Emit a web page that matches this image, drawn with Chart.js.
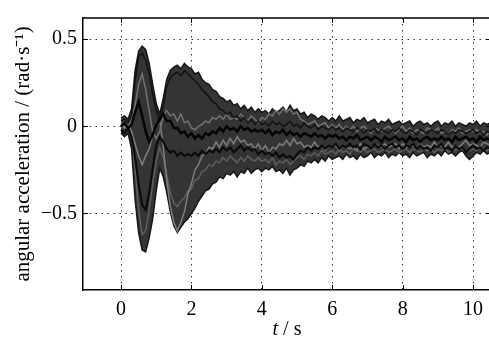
<!DOCTYPE html>
<html>
<head>
<meta charset="utf-8">
<script src="https://cdn.jsdelivr.net/npm/chart.js@4/dist/chart.umd.min.js"></script>
<style>
    html, body { margin: 0; padding: 0; background: #fff; overflow: hidden; }
    #accel_chart { display: block; }
</style>
</head>
<body>
<canvas id="accel_chart" width="492" height="340"></canvas>
<script>
// time axis, seconds
const time_s = [
    0.0, 0.1, 0.2, 0.3, 0.4, 0.5, 0.6, 0.7, 0.8, 0.9,
    1.0, 1.1, 1.2, 1.3, 1.4, 1.5, 1.6, 1.7, 1.8, 1.9,
    2.0, 2.1, 2.2, 2.3, 2.4, 2.5, 2.6, 2.7, 2.8, 2.9,
    3.0, 3.1, 3.2, 3.3, 3.4, 3.5, 3.6, 3.7, 3.8, 3.9,
    4.0, 4.1, 4.2, 4.3, 4.4, 4.5, 4.6, 4.7, 4.8, 4.9,
    5.0, 5.1, 5.2, 5.3, 5.4, 5.5, 5.6, 5.7, 5.8, 5.9,
    6.0, 6.1, 6.2, 6.3, 6.4, 6.5, 6.6, 6.7, 6.8, 6.9,
    7.0, 7.1, 7.2, 7.3, 7.4, 7.5, 7.6, 7.7, 7.8, 7.9,
    8.0, 8.1, 8.2, 8.3, 8.4, 8.5, 8.6, 8.7, 8.8, 8.9,
    9.0, 9.1, 9.2, 9.3, 9.4, 9.5, 9.6, 9.7, 9.8, 9.9,
    10.0, 10.1, 10.2, 10.3, 10.4, 10.5
];

// upper / lower edge of the bundle of all runs (rad/s^2)
const upper_env = [
    0.05, 0.06, 0.04, 0.10, 0.32, 0.43, 0.46, 0.44, 0.36, 0.24,
    0.13, 0.07, 0.16, 0.27, 0.32, 0.34, 0.35, 0.33, 0.36, 0.34,
    0.33, 0.30, 0.31, 0.27, 0.25, 0.24, 0.21, 0.20, 0.17, 0.16,
    0.14, 0.15, 0.12, 0.13, 0.10, 0.12, 0.09, 0.11, 0.08, 0.10,
    0.08, 0.09, 0.07, 0.10, 0.08, 0.09, 0.11, 0.08, 0.12, 0.09,
    0.10, 0.07, 0.08, 0.05, 0.07, 0.06, 0.04, 0.06, 0.05, 0.03,
    0.05, 0.03, 0.06, 0.03, 0.04, 0.05, 0.02, 0.04, 0.03, 0.05,
    0.02, 0.03, 0.04, 0.01, 0.03, 0.02, 0.04, 0.01, 0.02, 0.03,
    0.01, 0.02, 0.03, 0.00, 0.02, 0.03, 0.01, 0.02, 0.00, 0.02,
    0.03, 0.00, 0.02, 0.01, 0.03, 0.00, 0.02, 0.01, 0.00, 0.02,
    0.01, 0.03, 0.00, 0.02, 0.01, 0.02
];

const lower_env = [
    -0.04, -0.06, -0.04, -0.13, -0.42, -0.61, -0.71, -0.72, -0.64, -0.53,
    -0.37, -0.24, -0.29, -0.38, -0.49, -0.57, -0.61, -0.58, -0.55, -0.53,
    -0.50, -0.47, -0.43, -0.40, -0.37, -0.36, -0.33, -0.32, -0.29, -0.30,
    -0.27, -0.28, -0.26, -0.29, -0.26, -0.27, -0.24, -0.27, -0.25, -0.24,
    -0.26, -0.24, -0.25, -0.23, -0.26, -0.25, -0.27, -0.24, -0.28, -0.25,
    -0.24, -0.22, -0.23, -0.20, -0.21, -0.19, -0.21, -0.18, -0.20, -0.17,
    -0.19, -0.18, -0.17, -0.19, -0.16, -0.18, -0.17, -0.19, -0.16, -0.18,
    -0.17, -0.15, -0.18, -0.16, -0.17, -0.15, -0.18, -0.16, -0.17, -0.15,
    -0.17, -0.16, -0.18, -0.15, -0.17, -0.16, -0.15, -0.18, -0.16, -0.17,
    -0.15, -0.17, -0.14, -0.16, -0.15, -0.17, -0.15, -0.14, -0.17, -0.19,
    -0.17, -0.15, -0.16, -0.14, -0.16, -0.15
];

// darkest runs inside the bundle
const mean_run = [
    0.00, 0.02, -0.01, 0.01, 0.08, 0.14, 0.06, -0.03, -0.09, -0.05,
    0.01, 0.04, 0.07, 0.03, 0.03, -0.01, -0.01, -0.04, -0.03, -0.06,
    -0.04, -0.07, -0.05, -0.07, -0.04, -0.05, -0.03, -0.04, -0.01, -0.03,
    0.00, -0.02, -0.01, -0.03, 0.00, -0.02, -0.01, -0.03, -0.02, -0.03,
    -0.02, -0.04, -0.02, -0.05, -0.03, -0.04, -0.02, -0.05, -0.03, -0.05,
    -0.04, -0.06, -0.04, -0.05, -0.06, -0.04, -0.06, -0.05, -0.07, -0.05,
    -0.06, -0.05, -0.07, -0.06, -0.08, -0.06, -0.07, -0.05, -0.08, -0.07,
    -0.06, -0.08, -0.06, -0.07, -0.09, -0.06, -0.08, -0.07, -0.06, -0.08,
    -0.07, -0.09, -0.06, -0.08, -0.07, -0.09, -0.07, -0.06, -0.08, -0.07,
    -0.08, -0.06, -0.08, -0.07, -0.09, -0.06, -0.08, -0.07, -0.06, -0.08,
    -0.07, -0.09, -0.06, -0.08, -0.07, -0.08
];

const low_run = [
    -0.02, -0.04, -0.01, -0.06, -0.18, -0.33, -0.45, -0.48, -0.38, -0.24,
    -0.11, -0.06, -0.09, -0.13, -0.15, -0.14, -0.17, -0.15, -0.17, -0.16,
    -0.17, -0.15, -0.17, -0.14, -0.16, -0.14, -0.15, -0.13, -0.15, -0.12,
    -0.14, -0.12, -0.15, -0.13, -0.11, -0.14, -0.12, -0.14, -0.13, -0.16,
    -0.14, -0.16, -0.15, -0.17, -0.15, -0.18, -0.16, -0.18, -0.17, -0.19,
    -0.16, -0.14, -0.15, -0.12, -0.14, -0.12, -0.13, -0.11, -0.13, -0.11,
    -0.12, -0.10, -0.13, -0.11, -0.12, -0.10, -0.12, -0.11, -0.13, -0.10,
    -0.11, -0.13, -0.10, -0.12, -0.11, -0.13, -0.11, -0.10, -0.12, -0.11,
    -0.13, -0.11, -0.12, -0.10, -0.13, -0.11, -0.13, -0.12, -0.14, -0.11,
    -0.12, -0.10, -0.13, -0.12, -0.14, -0.11, -0.13, -0.12, -0.15, -0.13,
    -0.11, -0.13, -0.12, -0.14, -0.12, -0.13
];

const dark_top_run = [
    0.03, 0.04, 0.02, 0.06, 0.26, 0.40, 0.42, 0.38, 0.30, 0.18,
    0.09, 0.03, 0.12, 0.23, 0.28, 0.30, 0.31, 0.29, 0.32, 0.30,
    0.28, 0.26, 0.24, 0.21, 0.19, 0.17, 0.14, 0.13, 0.10, 0.09,
    0.07, 0.08, 0.05, 0.06, 0.03, 0.05, 0.02, 0.04, 0.01, 0.03,
    0.01, 0.02, 0.00, 0.03, 0.01, 0.02, 0.00, 0.01, 0.03, 0.00,
    0.01, -0.01, 0.02, 0.00, -0.01, 0.01, -0.02, 0.00, -0.01, -0.02,
    0.00, -0.02, -0.01, -0.03, -0.01, -0.02, -0.03, -0.01, -0.02, -0.04,
    -0.02, -0.03, -0.01, -0.04, -0.02, -0.03, -0.04, -0.02, -0.03, -0.01,
    -0.03, -0.04, -0.02, -0.03, -0.05, -0.02, -0.03, -0.04, -0.02, -0.03,
    -0.04, -0.02, -0.03, -0.05, -0.03, -0.04, -0.02, -0.03, -0.04, -0.03,
    -0.02, -0.04, -0.03, -0.05, -0.03, -0.04
];

// mid and light grey runs
const mid_run = [
    -0.01, 0.00, -0.02, -0.04, -0.25, -0.48, -0.62, -0.60, -0.48, -0.33,
    -0.20, -0.12, -0.18, -0.28, -0.38, -0.44, -0.46, -0.43, -0.41, -0.37,
    -0.36, -0.31, -0.30, -0.26, -0.25, -0.22, -0.23, -0.20, -0.21, -0.18,
    -0.20, -0.17, -0.19, -0.21, -0.18, -0.20, -0.17, -0.19, -0.20, -0.18,
    -0.20, -0.19, -0.21, -0.18, -0.22, -0.20, -0.21, -0.19, -0.22, -0.20,
    -0.18, -0.17, -0.19, -0.16, -0.17, -0.15, -0.17, -0.14, -0.16, -0.15,
    -0.14, -0.16, -0.13, -0.15, -0.14, -0.16, -0.13, -0.14, -0.15, -0.13,
    -0.15, -0.14, -0.13, -0.15, -0.14, -0.13, -0.15, -0.14, -0.13, -0.15,
    -0.14, -0.13, -0.15, -0.13, -0.14, -0.15, -0.13, -0.14, -0.13, -0.15,
    -0.13, -0.14, -0.12, -0.15, -0.13, -0.14, -0.12, -0.13, -0.15, -0.14,
    -0.13, -0.14, -0.12, -0.13, -0.14, -0.12
];

const grey_low_run = [
    0.02, -0.01, 0.01, -0.03, -0.10, -0.17, -0.22, -0.17, -0.13, -0.05,
    0.02, 0.04, -0.12, -0.31, -0.46, -0.55, -0.60, -0.55, -0.49, -0.39,
    -0.33, -0.25, -0.22, -0.17, -0.16, -0.12, -0.13, -0.09, -0.12, -0.08,
    -0.11, -0.07, -0.10, -0.06, -0.09, -0.08, -0.11, -0.10, -0.13, -0.10,
    -0.14, -0.11, -0.15, -0.12, -0.13, -0.10, -0.11, -0.08, -0.11, -0.07,
    -0.10, -0.09, -0.12, -0.11, -0.12, -0.09, -0.12, -0.11, -0.14, -0.11,
    -0.12, -0.11, -0.14, -0.11, -0.12, -0.13, -0.12, -0.14, -0.10, -0.13,
    -0.12, -0.13, -0.10, -0.11, -0.12, -0.10, -0.12, -0.11, -0.10, -0.13,
    -0.10, -0.12, -0.12, -0.11, -0.13, -0.10, -0.12, -0.11, -0.12, -0.09,
    -0.12, -0.11, -0.12, -0.09, -0.12, -0.11, -0.12, -0.10, -0.08, -0.11,
    -0.10, -0.11, -0.12, -0.09, -0.10, -0.11
];

const grey_high_run = [
    0.01, 0.03, 0.00, 0.04, 0.12, 0.24, 0.30, 0.21, 0.09, -0.03,
    -0.07, -0.03, 0.06, 0.09, 0.06, 0.07, 0.03, 0.07, 0.02, 0.03,
    -0.01, -0.02, 0.00, 0.01, 0.03, 0.02, 0.05, 0.04, 0.06, 0.04,
    0.07, 0.04, 0.05, 0.04, 0.07, 0.05, 0.03, 0.06, 0.04, 0.02,
    0.05, 0.04, 0.07, 0.06, 0.09, 0.07, 0.10, 0.08, 0.10, 0.07,
    0.08, 0.04, 0.03, 0.01, 0.02, 0.03, 0.00, 0.01, 0.02, -0.01,
    0.01, -0.01, 0.01, -0.02, 0.00, -0.02, 0.00, -0.03, -0.01, 0.00,
    -0.02, -0.04, -0.01, -0.02, -0.03, -0.01, 0.00, -0.02, -0.04, -0.02,
    0.00, -0.03, -0.01, -0.04, -0.02, -0.03, -0.04, -0.01, -0.02, -0.03,
    -0.01, -0.04, -0.03, -0.05, -0.02, -0.03, -0.01, -0.04, -0.03, -0.02,
    -0.03, -0.02, -0.04, -0.03, -0.05, -0.02
];

const x_ticks = [0, 2, 4, 6, 8, 10];
const y_ticks = [-0.5, 0, 0.5];

const serif = '"Liberation Serif", "Times New Roman", serif';
const font_px = 20;

function to_points(values) {
    return time_s.map((t, i) => ({x: t, y: values[i]}));
}

function fmt_num(v) {
    // matlab style minus sign
    return v < 0 ? '\u2212' + Math.abs(v) : String(v);
}

// top/right frame, inward ticks and the "t / s" label (italic t)
const frame_plugin = {
    id: 'frame',
    afterDraw(chart) {
        const ctx = chart.ctx;
        const a = chart.chartArea;
        const sx = chart.scales.x;
        const sy = chart.scales.y;
        ctx.save();
        ctx.strokeStyle = '#000';
        ctx.lineWidth = 1.5;
        ctx.beginPath();
        ctx.moveTo(a.left, a.top);
        ctx.lineTo(a.right, a.top);
        ctx.lineTo(a.right, a.bottom);
        ctx.stroke();

        ctx.lineWidth = 1;
        ctx.beginPath();
        x_ticks.forEach(v => {
            const px = Math.round(sx.getPixelForValue(v)) + 0.5;
            ctx.moveTo(px, a.bottom); ctx.lineTo(px, a.bottom - 5);
            ctx.moveTo(px, a.top); ctx.lineTo(px, a.top + 5);
        });
        y_ticks.forEach(v => {
            const py = Math.round(sy.getPixelForValue(v)) + 0.5;
            ctx.moveTo(a.left, py); ctx.lineTo(a.left + 5, py);
            ctx.moveTo(a.right, py); ctx.lineTo(a.right - 5, py);
        });
        ctx.stroke();

        ctx.fillStyle = '#000';
        ctx.textBaseline = 'alphabetic';
        ctx.textAlign = 'left';
        ctx.font = 'italic ' + font_px + 'px ' + serif;
        const w_t = ctx.measureText('t').width;
        ctx.font = font_px + 'px ' + serif;
        const w_rest = ctx.measureText(' / s').width;
        const x0 = (a.left + a.right) / 2 - (w_t + w_rest) / 2;
        ctx.font = 'italic ' + font_px + 'px ' + serif;
        ctx.fillText('t', x0, 335);
        ctx.font = font_px + 'px ' + serif;
        ctx.fillText(' / s', x0 + w_t, 335);
        ctx.restore();
    }
};

const run_line = (label, values, color, width, order) => ({
    label: label,
    data: to_points(values),
    borderColor: color,
    borderWidth: width,
    pointRadius: 0,
    tension: 0,
    fill: false,
    order: order,
});

const accel_chart = new Chart(document.getElementById('accel_chart'), {
    type: 'line',
    data: {
        datasets: [
            {
                label: 'upper',
                data: to_points(upper_env),
                borderColor: 'rgb(22, 22, 22)',
                borderWidth: 1.5,
                pointRadius: 0,
                tension: 0,
                fill: {target: '+1', above: 'rgb(52, 52, 52)', below: 'rgb(52, 52, 52)'},
                order: 10,
            },
            run_line('lower', lower_env, 'rgb(22, 22, 22)', 1.5, 9),
            run_line('mid', mid_run, 'rgb(95, 95, 95)', 1.5, 6),
            run_line('grey low', grey_low_run, 'rgb(125, 125, 125)', 1.5, 5),
            run_line('grey high', grey_high_run, 'rgb(115, 115, 115)', 1.5, 4),
            run_line('dark top', dark_top_run, 'rgb(18, 18, 18)', 1.5, 3),
            run_line('low band', low_run, 'rgb(10, 10, 10)', 2, 2),
            run_line('mean', mean_run, 'rgb(5, 5, 5)', 2.5, 1),
        ]
    },
    options: {
        responsive: false,
        animation: false,
        events: [],
        layout: {
            padding: {top: 12, right: 1, left: 0, bottom: 0}
        },
        plugins: {
            legend: {display: false},
            tooltip: {enabled: false},
        },
        scales: {
            x: {
                type: 'linear',
                min: -1.08,
                max: 10.51,
                afterBuildTicks: (scale) => {
                    scale.ticks = x_ticks.map(v => ({value: v}));
                },
                afterFit: (scale) => { scale.height = 50; },
                ticks: {
                    color: '#000',
                    padding: 8,
                    maxRotation: 0,
                    font: {family: serif, size: font_px},
                    callback: (v) => fmt_num(v),
                },
                grid: {
                    color: '#333',
                    lineWidth: 1,
                    drawTicks: false,
                },
                border: {display: true, color: '#000', width: 1.5, dash: [1.5, 4.5]},
            },
            y: {
                type: 'linear',
                min: -0.939,
                max: 0.621,
                afterBuildTicks: (scale) => {
                    scale.ticks = y_ticks.map(v => ({value: v}));
                },
                afterFit: (scale) => { scale.width = 83; },
                ticks: {
                    color: '#000',
                    padding: 6,
                    font: {family: serif, size: font_px},
                    callback: (v) => fmt_num(v),
                },
                grid: {
                    color: '#333',
                    lineWidth: 1,
                    drawTicks: false,
                },
                border: {display: true, color: '#000', width: 1.5, dash: [1.5, 4.5]},
                title: {
                    display: true,
                    text: 'angular acceleration / (rad\u00b7s\u207b\u00b9)',
                    color: '#000',
                    font: {family: serif, size: 21},
                    padding: {top: 11, bottom: 0},
                },
            },
        },
    },
    plugins: [frame_plugin],
});
</script>
</body>
</html>
